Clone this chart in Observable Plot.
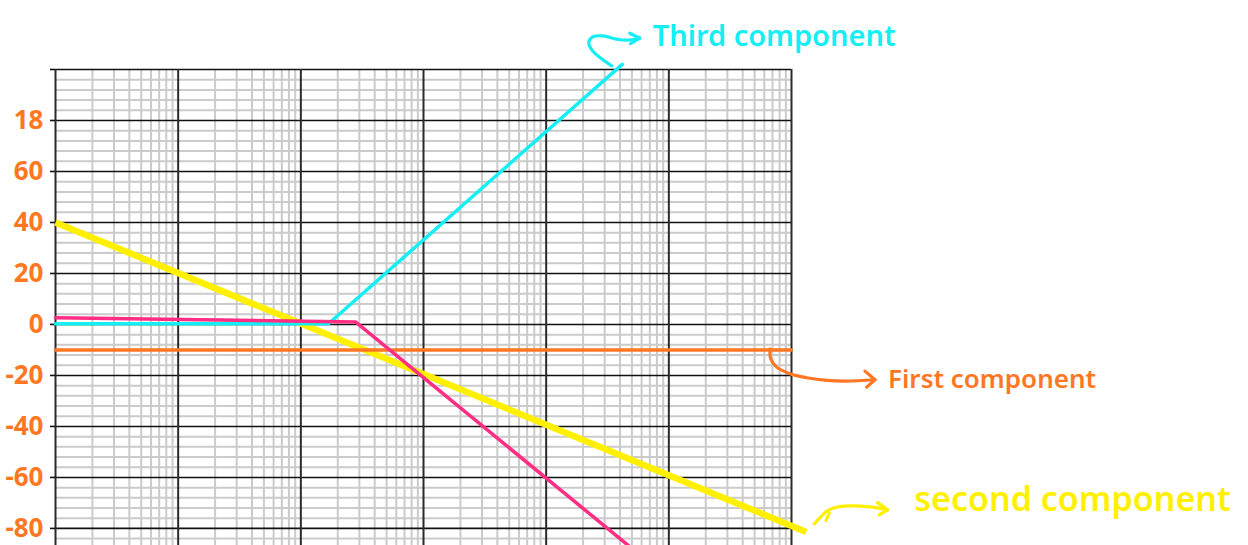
<!DOCTYPE html>
<html>
<head>
<meta charset="utf-8">
<script src="https://cdn.jsdelivr.net/npm/d3@7"></script>
<script src="https://cdn.jsdelivr.net/npm/@observablehq/plot@0.6"></script>
<style>
  html, body { margin: 0; padding: 0; background: #fff; }
  #chart svg { display: block; }
</style>
</head>
<body>
<div id="chart"></div>
<script>
// Asymptotic Bode magnitude plot on semilog paper: gain (dB) against frequency (rad/s)

// First component: constant gain
const omegaFirst = [1, 1e6];
const gainFirst = [-10, -10];

// Second component: -20 dB/decade across the whole range
const omegaSecond = [1, 1.32e6];
const gainSecond = [40, -81.4];

// Third component: flat, then +40 dB/decade
const omegaThird = [1, 168, 41700];
const gainThird = [0.3, 0.3, 102];

// Composite response: flat, then -40 dB/decade
const omegaTotal = [1, 279, 49000];
const gainTotal = [2.6, 1.0, -87.5];

// Left axis ticks and their handwritten labels
const yTickValues = [100, 80, 60, 40, 20, 0, -20, -40, -60, -80];
const yTickLabels = ["", "18", "60", "40", "20", "0", "-20", "-40", "-60", "-80"];

const componentLabels = ["First component", "second component", "Third component"];

const ORANGE = "#ff7722";
const YELLOW = "#fff000";
const CYAN = "#14eef4";
const PINK = "#ff2d84";

// Semilog paper: decade lines, 2..9 sub-lines, and 4 dB horizontal rulings
const decades = d3.range(0, 7).map(d => 10 ** d);
const minorX = d3.range(0, 6).flatMap(d => d3.range(2, 10).map(k => k * 10 ** d));
const majorY = d3.range(-80, 101, 20);
const minorY = d3.range(-84, 101, 4).filter(v => v % 20 !== 0);

const rows = (xs, ys) => xs.map((w, i) => ({w, g: ys[i]}));

const chart = Plot.plot({
  width: 1248,
  height: 545,
  marginLeft: 55,
  marginRight: 457,
  marginTop: 69,
  marginBottom: 0,
  style: {background: "#fff", overflow: "visible"},
  x: {type: "log", domain: [1, 1e6], axis: null},
  y: {domain: [-86.7, 100], axis: null},
  marks: [
    Plot.ruleX(minorX, {stroke: "#cbcbcb", strokeWidth: 2}),
    Plot.ruleY(minorY, {stroke: "#cbcbcb", strokeWidth: 2}),
    Plot.ruleY(majorY, {stroke: "#111", strokeWidth: 1.6}),
    Plot.ruleX(decades, {stroke: "#2a2a2a", strokeWidth: 2}),
    Plot.axisY(yTickValues, {
      anchor: "left",
      label: null,
      tickSize: 5,
      tickPadding: 7,
      stroke: "#111",
      strokeWidth: 1.6,
      fill: ORANGE,
      fontSize: 26,
      fontWeight: "bold",
      fontFamily: "Noto Sans, sans-serif",
      tickFormat: d => yTickLabels[yTickValues.indexOf(d)]
    }),
    Plot.line(rows(omegaSecond, gainSecond), {x: "w", y: "g", stroke: YELLOW, strokeWidth: 6.5, strokeLinecap: "butt"}),
    Plot.line(rows(omegaFirst, gainFirst), {x: "w", y: "g", stroke: ORANGE, strokeWidth: 3.5}),
    Plot.line(rows(omegaThird, gainThird), {x: "w", y: "g", stroke: CYAN, strokeWidth: 3.5}),
    Plot.line(rows(omegaTotal, gainTotal), {x: "w", y: "g", stroke: PINK, strokeWidth: 3.5})
  ]
});

document.getElementById("chart").append(chart);

// Hand-drawn callouts, anchored at the end of each component's line
const sx = chart.scale("x"), sy = chart.scale("y");
const svg = d3.select(chart);
const g = svg.append("g").attr("fill", "none").attr("stroke-linecap", "round").attr("stroke-linejoin", "round");
const curve = d3.line().curve(d3.curveCatmullRom.alpha(0.5));

const callouts = [
  {
    label: componentLabels[2], color: CYAN, size: 29,
    anchor: [sx.apply(omegaThird.at(-1)), sy.apply(gainThird.at(-1))],
    path: [[-10, 2], [-29, -13], [-33, -21.3], [-29, -27], [-19, -28], [-5, -24.7], [5, -23.7], [18, -25.7]],
    head: [[8, -30.7], [18, -25.7], [8.7, -20.3]],
    text: [31, -18]
  },
  {
    label: componentLabels[0], color: ORANGE, size: 26,
    anchor: [sx.apply(omegaFirst.at(-1)), sy.apply(gainFirst.at(-1))],
    path: [[-21, -0.7], [-20.3, 9.3], [-14.3, 17.7], [-1, 24.3], [15.7, 28.3], [35.7, 31], [55.7, 31.7], [84, 30.3]],
    head: [[74, 21.7], [84, 30.3], [75.7, 37.7]],
    text: [97, 39]
  },
  {
    label: componentLabels[1], color: YELLOW, size: 34,
    anchor: [sx.apply(omegaSecond.at(-1)), sy.apply(gainSecond.at(-1))],
    path: [[8.5, -7.6], [15.2, -14.9], [21.8, -20.9], [33.5, -24.9], [50.2, -25.6], [66.8, -24.3], [81.8, -21.6]],
    head: [[71.8, -28.9], [81.8, -21.6], [73.5, -16.6]],
    extra: [[20.2, -10.9], [23.5, -18.3]],
    text: [108.5, -20]
  }
];

for (const c of callouts) {
  const [ax, ay] = c.anchor;
  const shift = pts => pts.map(([dx, dy]) => [ax + dx, ay + dy]);
  g.append("path").attr("d", curve(shift(c.path))).attr("stroke", c.color).attr("stroke-width", 3.2);
  g.append("path").attr("d", d3.line()(shift(c.head))).attr("stroke", c.color).attr("stroke-width", 3.2);
  if (c.extra) g.append("path").attr("d", d3.line()(shift(c.extra))).attr("stroke", c.color).attr("stroke-width", 3.2);
  svg.append("text")
    .attr("x", ax + c.text[0])
    .attr("y", ay + c.text[1])
    .attr("text-anchor", "start")
    .attr("fill", c.color)
    .attr("font-family", "Noto Sans, sans-serif")
    .attr("font-weight", 600)
    .attr("font-size", c.size)
    .text(c.label);
}
</script>
</body>
</html>
